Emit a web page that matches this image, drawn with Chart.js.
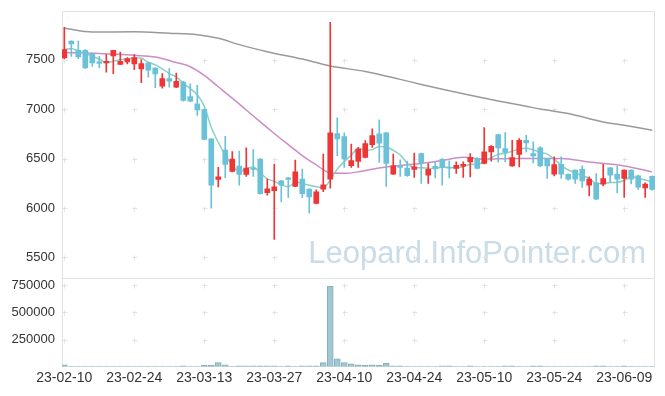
<!DOCTYPE html>
<html>
<head>
<meta charset="utf-8">
<script src="https://cdn.jsdelivr.net/npm/chart.js@4.4.0/dist/chart.umd.min.js"></script>
<style>
  html, body { margin: 0; padding: 0; background: #fff; }
  #wrap { width: 665px; height: 396px; position: relative; }
</style>
</head>
<body>
<div id="wrap"><canvas id="stockChart"></canvas></div>
<script>
// trading days, 23-02-10 .. 23-06-15
const dates = [
  '23-02-10', '23-02-13', '23-02-14', '23-02-15', '23-02-16', '23-02-17', '23-02-20', '23-02-21', '23-02-22', '23-02-23',
  '23-02-24', '23-02-27', '23-02-28', '23-03-02', '23-03-03', '23-03-06', '23-03-07', '23-03-08', '23-03-09', '23-03-10',
  '23-03-13', '23-03-14', '23-03-15', '23-03-16', '23-03-17', '23-03-20', '23-03-21', '23-03-22', '23-03-23', '23-03-24',
  '23-03-27', '23-03-28', '23-03-29', '23-03-30', '23-03-31', '23-04-03', '23-04-04', '23-04-05', '23-04-06', '23-04-07',
  '23-04-10', '23-04-11', '23-04-12', '23-04-13', '23-04-14', '23-04-17', '23-04-18', '23-04-19', '23-04-20', '23-04-21',
  '23-04-24', '23-04-25', '23-04-26', '23-04-27', '23-04-28', '23-05-02', '23-05-03', '23-05-04', '23-05-08', '23-05-09',
  '23-05-10', '23-05-11', '23-05-12', '23-05-15', '23-05-16', '23-05-17', '23-05-18', '23-05-19', '23-05-22', '23-05-23',
  '23-05-24', '23-05-25', '23-05-26', '23-05-30', '23-05-31', '23-06-01', '23-06-02', '23-06-05', '23-06-07', '23-06-08',
  '23-06-09', '23-06-12', '23-06-13', '23-06-14', '23-06-15'
];

const opens = [
  7516, 7686, 7594, 7594, 7561, 7476, 7466, 7537, 7452, 7476,
  7455, 7405, 7466, 7415, 7232, 7307, 7222, 7273, 7127, 7053,
  6995, 6698, 6288, 6586, 6370, 6424, 6339, 6400, 6495, 6156,
  6176, 6275, 6306, 6217, 6292, 6191, 6045, 6191, 6292, 6752,
  6722, 6427, 6471, 6511, 6640, 6749, 6759, 6343, 6427, 6404,
  6390, 6551, 6331, 6422, 6493, 6409, 6399, 6422, 6466, 6500,
  6450, 6567, 6743, 6601, 6425, 6541, 6685, 6551, 6607, 6500,
  6341, 6442, 6341, 6382, 6392, 6230, 6254, 6241, 6405, 6341,
  6298, 6382, 6324, 6203, 6321
];
const closes = [
  7601, 7658, 7526, 7415, 7466, 7462, 7483, 7594, 7483, 7510,
  7520, 7459, 7394, 7354, 7307, 7283, 7280, 7087, 7080, 6992,
  6694, 6231, 6316, 6440, 6495, 6339, 6404, 6390, 6146, 6194,
  6214, 6231, 6288, 6366, 6146, 6113, 6163, 6234, 6759, 6698,
  6495, 6478, 6596, 6650, 6732, 6654, 6451, 6427, 6410, 6326,
  6417, 6456, 6392, 6399, 6409, 6402, 6432, 6442, 6513, 6399,
  6567, 6624, 6607, 6561, 6510, 6685, 6658, 6526, 6425, 6425,
  6439, 6341, 6291, 6291, 6274, 6291, 6089, 6298, 6331, 6291,
  6382, 6291, 6210, 6241, 6187
];
const highs = [
  7825, 7690, 7686, 7600, 7565, 7533, 7551, 7594, 7577, 7520,
  7551, 7500, 7470, 7420, 7358, 7409, 7364, 7280, 7256, 7239,
  7000, 6700, 6410, 6725, 6569, 6576, 6607, 6590, 6500, 6292,
  6444, 6280, 6310, 6485, 6394, 6195, 6184, 6546, 7876, 6911,
  6759, 6647, 6613, 6681, 6799, 6891, 6765, 6546, 6488, 6471,
  6556, 6555, 6450, 6466, 6500, 6476, 6466, 6466, 6551, 6510,
  6813, 6630, 6745, 6763, 6685, 6702, 6735, 6668, 6620, 6500,
  6517, 6517, 6345, 6385, 6425, 6314, 6349, 6442, 6410, 6422,
  6385, 6385, 6330, 6254, 6325
];
const lows = [
  7510, 7533, 7510, 7410, 7432, 7419, 7374, 7358, 7450, 7455,
  7398, 7266, 7323, 7216, 7212, 7222, 7215, 7080, 7075, 6935,
  6690, 5998, 6214, 6306, 6365, 6231, 6319, 6320, 6140, 6130,
  5683, 6062, 6105, 6215, 6105, 5947, 6040, 6166, 6201, 6529,
  6410, 6410, 6410, 6505, 6613, 6461, 6217, 6340, 6319, 6320,
  6309, 6248, 6248, 6304, 6230, 6304, 6349, 6308, 6314, 6395,
  6445, 6473, 6466, 6466, 6420, 6415, 6567, 6456, 6420, 6298,
  6324, 6298, 6280, 6248, 6207, 6122, 6085, 6224, 6258, 6153,
  6106, 6244, 6187, 6106, 6180
];
const volumes = [
  18000, 1500, 1500, 1500, 1500, 1500, 1500, 1500, 1500, 1500,
  1500, 1500, 1500, 1500, 1500, 1500, 1500, 9000, 1500, 1500,
  12000, 12000, 37000, 18000, 1500, 9000, 9000, 9000, 9000, 9000,
  9000, 1500, 9000, 1500, 9000, 9000, 9000, 37000, 740000, 73000,
  37000, 27000, 18000, 12000, 18000, 12000, 30000, 9000, 9000, 1500,
  1500, 1500, 1500, 1500, 9000, 9000, 1500, 1500, 9000, 1500,
  1500, 1500, 1500, 9000, 9000, 1500, 1500, 9000, 9000, 1500,
  1500, 1500, 1500, 1500, 1500, 1500, 9000, 9000, 1500, 1500,
  9000, 1500, 1500, 1500, 1500
];

// moving averages
const ma5 = [
  7601, 7611, 7587, 7561, 7533, 7505, 7470, 7484, 7498, 7506,
  7518, 7513, 7473, 7447, 7407, 7359, 7324, 7262, 7207, 7144,
  7027, 6817, 6663, 6535, 6435, 6364, 6399, 6414, 6355, 6295,
  6270, 6235, 6215, 6259, 6249, 6229, 6215, 6204, 6283, 6393,
  6470, 6533, 6605, 6583, 6590, 6622, 6617, 6583, 6535, 6454,
  6406, 6407, 6400, 6398, 6415, 6412, 6407, 6417, 6440, 6438,
  6471, 6509, 6542, 6552, 6574, 6597, 6604, 6588, 6561, 6544,
  6495, 6431, 6384, 6357, 6327, 6298, 6247, 6249, 6257, 6260,
  6278, 6319, 6301, 6283, 6262
];
const ma20Idx = [0, 5, 10, 13, 16, 18, 20, 22, 24, 26, 28, 30, 32, 34, 36, 38, 40, 42, 45, 48, 51, 54, 57, 60, 64, 68, 71, 75, 80, 84];
const ma20 = [7571, 7561, 7543, 7526, 7470, 7428, 7340, 7225, 7110, 6990, 6870, 6753, 6640, 6530, 6435, 6355, 6350, 6365, 6405, 6430, 6450, 6480, 6512, 6493, 6500, 6500, 6500, 6465, 6425, 6365];
const ma60Idx = [0, 4, 10, 15, 19, 22, 25, 29, 34, 38, 43, 48, 51, 55, 58, 62, 66, 68, 72, 77, 80, 84];
const ma60 = [7816, 7778, 7781, 7766, 7752, 7715, 7651, 7580, 7505, 7435, 7380, 7300, 7249, 7185, 7139, 7082, 7028, 7000, 6955, 6870, 6836, 6786];

const priceTicks = [5500, 6000, 6500, 7000, 7500];
const volumeTicks = [250000, 500000, 750000];
const dateTickStep = 10;
const watermark = 'Leopard.InfoPointer.com';

const UP = '#ef3636';
const DOWN = '#6bc2d8';
const FONT = '"Liberation Sans", Arial, sans-serif';

const candleColors = closes.map((c, i) => c >= opens[i] ? UP : DOWN);
const wickData = dates.map((d, i) => ({ x: i, y: [lows[i], highs[i]] }));
const bodyData = dates.map((d, i) => ({ x: i, y: [opens[i], closes[i]] }));
const volumeData = volumes.map((v, i) => ({ x: i, y: v }));
const ma5Data = ma5.map((v, i) => ({ x: i, y: v }));
const ma20Data = ma20Idx.map((x, k) => ({ x: x, y: ma20[k] }));
const ma60Data = ma60Idx.map((x, k) => ({ x: x, y: ma60[k] }));

// grid crosses, panel frame and watermark
const panelDecor = {
    id: 'panelDecor',
    beforeDatasetsDraw(chart) {
        const { ctx, chartArea: a, scales } = chart;
        const x = scales.x, y = scales.y, yv = scales.yv;
        ctx.save();

        ctx.font = '31px ' + FONT;
        ctx.fillStyle = '#c9dce8';
        ctx.textAlign = 'right';
        ctx.textBaseline = 'alphabetic';
        ctx.fillText(watermark, a.right - 9, y.bottom - 15);

        ctx.strokeStyle = '#e2e2e2';
        ctx.lineWidth = 1;
        const cross = (px, py) => {
            px = Math.round(px) + 0.5;
            py = Math.round(py) + 0.5;
            ctx.beginPath();
            ctx.moveTo(px - 2, py); ctx.lineTo(px + 3, py);
            ctx.moveTo(px, py - 2); ctx.lineTo(px, py + 3);
            ctx.stroke();
        };
        x.ticks.forEach(t => {
            const px = x.getPixelForValue(t.value);
            priceTicks.forEach(v => cross(px, y.getPixelForValue(v)));
            volumeTicks.forEach(v => cross(px, yv.getPixelForValue(v)));
        });

        ctx.strokeStyle = '#e2e2e2';
        ctx.strokeRect(Math.round(a.left) + 0.5, Math.round(a.top) + 0.5,
            Math.round(a.width) - 1, Math.round(a.height) - 1);
        ctx.beginPath();
        ctx.moveTo(a.left, Math.round(y.bottom) + 0.5);
        ctx.lineTo(a.right, Math.round(y.bottom) + 0.5);
        ctx.stroke();
        ctx.restore();
    }
};

const tickFont = { family: FONT, size: 13 };
const noPad = s => { s.paddingTop = 0; s.paddingBottom = 0; s.paddingLeft = 0; s.paddingRight = 0; };

new Chart(document.getElementById('stockChart'), {
    type: 'bar',
    data: {
        datasets: [
            {
                label: 'MA5', type: 'line', yAxisID: 'y', data: ma5Data,
                borderColor: '#8ccfc3', borderWidth: 1.5, pointRadius: 0,
                cubicInterpolationMode: 'monotone', order: 3
            },
            {
                label: 'MA20', type: 'line', yAxisID: 'y', data: ma20Data,
                borderColor: '#cc8dc6', borderWidth: 1.5, pointRadius: 0,
                cubicInterpolationMode: 'monotone', order: 3
            },
            {
                label: 'MA60', type: 'line', yAxisID: 'y', data: ma60Data,
                borderColor: '#9a9a9a', borderWidth: 1.5, pointRadius: 0,
                cubicInterpolationMode: 'monotone', order: 3
            },
            {
                label: 'wick', yAxisID: 'y', data: wickData,
                backgroundColor: candleColors, barThickness: 1,
                grouped: false, order: 2
            },
            {
                label: 'body', yAxisID: 'y', data: bodyData,
                backgroundColor: candleColors, barThickness: 5,
                grouped: false, order: 1
            },
            {
                label: 'volume', yAxisID: 'yv', data: volumeData,
                backgroundColor: '#a3c7d0', borderColor: '#82b1bf', borderWidth: 1,
                barThickness: 6, grouped: false, order: 4
            }
        ]
    },
    options: {
        responsive: true,
        maintainAspectRatio: false,
        animation: false,
        layout: { padding: { top: 11, right: 10, left: 0, bottom: 0 } },
        plugins: { legend: { display: false }, tooltip: { enabled: false } },
        scales: {
            x: {
                type: 'linear',
                offset: false,
                min: -0.33,
                max: 84.4,
                grid: { display: false, drawTicks: false },
                border: { display: false },
                afterBuildTicks: s => {
                    s.ticks = dates.map((d, i) => i).filter(i => i % dateTickStep === 0).map(v => ({ value: v }));
                },
                afterFit: s => { s.height = 29.3; noPad(s); },
                ticks: {
                    color: '#333',
                    font: { family: FONT, size: 14 },
                    padding: 3,
                    maxRotation: 0,
                    autoSkip: false,
                    callback: v => dates[v]
                }
            },
            yv: {
                type: 'linear',
                position: 'left',
                stack: 'panel',
                stackWeight: 1,
                weight: 0,
                min: 0,
                max: 812000,
                grid: { display: false, drawTicks: false },
                border: { display: false },
                afterBuildTicks: s => { s.ticks = volumeTicks.map(v => ({ value: v })); },
                afterFit: s => { s.width = 62; noPad(s); },
                ticks: { color: '#333', font: tickFont, padding: 7, callback: v => String(v) }
            },
            y: {
                type: 'linear',
                position: 'left',
                stack: 'panel',
                stackWeight: 3.03,
                weight: 1,
                min: 5288,
                max: 7991,
                grid: { display: false, drawTicks: false },
                border: { display: false },
                afterBuildTicks: s => { s.ticks = priceTicks.map(v => ({ value: v })); },
                afterFit: s => { s.width = 62; noPad(s); },
                ticks: { color: '#333', font: tickFont, padding: 7, callback: v => String(v) }
            }
        }
    },
    plugins: [panelDecor]
});
</script>
</body>
</html>
